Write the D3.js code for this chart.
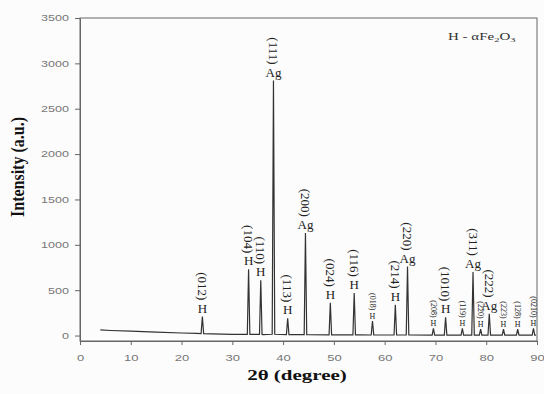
<!DOCTYPE html>
<html>
<head>
<meta charset="utf-8">
<script src="https://cdn.jsdelivr.net/npm/d3@7"></script>
<style>
  body { margin: 0; background: #fcfcfc; }
  svg { display: block; }
</style>
</head>
<body>
<svg></svg>
<script>
// XRD pattern
const peakPos    = [24.1, 33.2, 35.6, 38.1, 40.9, 44.4, 49.3, 54.0, 57.6, 62.1, 64.5, 69.6, 72.0, 75.3, 77.4, 78.9, 80.6, 83.4, 86.2, 89.3];
const peakHeight = [210, 730, 610, 2810, 190, 1130, 360, 470, 160, 340, 760, 80, 200, 80, 700, 70, 240, 70, 70, 80];
const peakBase   = [22, 12, 12, 14, 10, 10, 8, 7, 6, 6, 6, 5, 5, 5, 5, 5, 5, 5, 5, 5];
const peakHkl    = ['(012)', '(104)', '(110)', '(111)', '(113)', '(200)', '(024)', '(116)', '(018)', '(214)', '(220)',
                    '(208)', '(1010)', '(119)', '(311)', '(220)', '(222)', '(223)', '(128)', '(0210)'];
const peakPhase  = ['H', 'H', 'H', 'Ag', 'H', 'Ag', 'H', 'H', 'H', 'H', 'Ag',
                    'H', 'H', 'H', 'Ag', 'H', 'Ag', 'H', 'H', 'H'];
const baseline   = [[4, 62], [6, 56], [10, 48], [15, 38], [20, 28], [23, 24], [26, 18], [30, 12],
                    [36, 11], [45, 9], [55, 7], [65, 6], [75, 5], [85, 5], [89.8, 5]];
const xTicks = [0, 10, 20, 30, 40, 50, 60, 70, 80, 90];
const yTicks = [0, 500, 1000, 1500, 2000, 2500, 3000, 3500];

const size = {w: 544, h: 394};
const box = {l: 80, r: 537, t: 18, b: 341};
const svg = d3.select('svg')
    .attr('width', size.w)
    .attr('height', size.h);

const x = d3.scaleLinear().domain([0, 90]).range([box.l, box.r]);
const y = d3.scaleLinear().domain([-60, 3500]).range([box.b, box.t]);

// frame
svg.append('rect')
    .attr('x', box.l).attr('y', box.t)
    .attr('width', box.r - box.l).attr('height', box.b - box.t)
    .attr('fill', 'none').attr('stroke', '#666').attr('stroke-width', 1);

// axes
const yAxis = svg.append('g')
    .attr('transform', 'translate(' + box.l + ',0)')
    .call(d3.axisLeft(y).tickValues(yTicks).tickFormat(d3.format('d')).tickSize(5).tickSizeOuter(0));
const xAxis = svg.append('g')
    .attr('transform', 'translate(0,' + box.b + ')')
    .call(d3.axisBottom(x).tickValues(xTicks).tickFormat(d3.format('d')).tickSize(4).tickSizeOuter(0));

[yAxis, xAxis].forEach(a => {
    a.select('.domain').attr('stroke', '#666');
    a.selectAll('line').attr('stroke', '#666');
    a.selectAll('text')
        .attr('fill', '#777')
        .style('font-family', '"Liberation Sans", Arial, sans-serif')
        .style('font-size', '9px');
});
yAxis.selectAll('text').attr('x', 0).attr('transform', 'translate(-11,0) scale(1.4,1)');
xAxis.selectAll('text').attr('y', 0).attr('transform', 'translate(0,14) scale(1.45,1)');

// spectrum: baseline points plus a sharp triangle for every reflection
const pts = baseline.slice();
peakPos.forEach((p, i) => {
    pts.push([p - 0.25, peakBase[i]], [p, peakHeight[i]], [p + 0.25, peakBase[i]]);
});
pts.sort((a, b) => a[0] - b[0]);

const line = d3.line().x(d => x(d[0])).y(d => y(d[1]));
svg.append('path')
    .attr('d', line(pts))
    .attr('fill', 'none')
    .attr('stroke', '#333')
    .attr('stroke-width', 1.2);

// peak labels
const serif = '"Liberation Serif", "Times New Roman", serif';
const lab = svg.append('g').attr('fill', '#222').style('font-family', serif);
peakPos.forEach((p, i) => {
    let small = peakHeight[i] < 180;
    let fs = small ? 8 : 13;
    let px = x(p), top = y(peakHeight[i]);
    let phaseY = top - (small ? 2 : 4);
    lab.append('text')
        .attr('x', px).attr('y', phaseY)
        .attr('text-anchor', 'middle')
        .style('font-size', fs + 'px')
        .text(peakPhase[i]);
    let endY = phaseY - fs * 0.7 - 3;
    lab.append('text')
        .attr('transform', 'translate(' + px + ',' + endY + ') rotate(90)')
        .attr('text-anchor', 'end')
        .attr('dominant-baseline', 'central')
        .style('font-size', fs + 'px')
        .text(peakHkl[i]);
});

// phase key
const key = svg.append('text')
    .attr('transform', 'translate(448,40) scale(1.5,1)')
    .attr('fill', '#333')
    .style('font-family', serif)
    .style('font-size', '10px');
key.append('tspan').text('H - \u03b1Fe');
key.append('tspan').attr('dy', 2).style('font-size', '7px').text('2');
key.append('tspan').attr('dy', -2).text('O');
key.append('tspan').attr('dy', 2).style('font-size', '7px').text('3');

// axis titles
svg.append('text')
    .attr('transform', 'translate(297,380) scale(1.4,1)')
    .attr('text-anchor', 'middle')
    .attr('fill', '#111')
    .style('font-family', serif)
    .style('font-weight', 'bold')
    .style('font-size', '15px')
    .text('2\u03b8 (degree)');

svg.append('text')
    .attr('transform', 'translate(24,167) scale(1.15,1) rotate(-90)')
    .attr('text-anchor', 'middle')
    .attr('fill', '#111')
    .style('font-family', serif)
    .style('font-weight', 'bold')
    .style('font-size', '16px')
    .text('Intensity (a.u.)');
</script>
</body>
</html>
